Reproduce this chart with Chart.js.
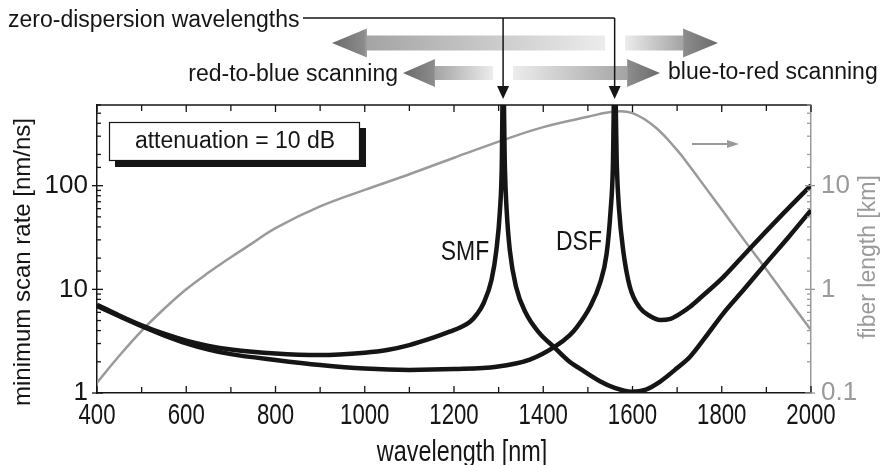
<!DOCTYPE html>
<html>
<head>
<meta charset="utf-8">
<script src="https://cdn.jsdelivr.net/npm/chart.js@4.4.1/dist/chart.umd.min.js"></script>
<style>
  html, body { margin: 0; padding: 0; background: #fff; }
  #wrap { width: 880px; height: 465px; position: relative; }
</style>
</head>
<body>
<div id="wrap"><canvas id="scanChart"></canvas></div>
<script>
// SMF: wavelength [nm] and minimum scan rate [nm/ns]
const smfWavelength = [400, 450, 500, 550, 600, 650, 700, 800, 900, 1000, 1050, 1100, 1150, 1190, 1215, 1236, 1252, 1266, 1284, 1295, 1303, 1307, 1310, 1314, 1318, 1325, 1339, 1361, 1391, 1425, 1459, 1482, 1527, 1560, 1598, 1630, 1662, 1700, 1729, 1760, 1804, 1850, 1900, 1950, 2000];
const smfRate = [7.1, 5.6, 4.5, 3.73, 3.2, 2.85, 2.63, 2.4, 2.32, 2.45, 2.6, 2.9, 3.38, 3.9, 4.3, 4.87, 5.8, 7.3, 12.3, 24, 58, 150, 1500, 150, 58, 24, 10.6, 5.9, 3.8, 2.75, 2.0, 1.72, 1.3, 1.12, 1.03, 1.08, 1.29, 1.74, 2.24, 3.3, 5.9, 10, 18, 32, 58];

// DSF
const dsfWavelength = [400, 450, 500, 550, 600, 650, 700, 800, 900, 1000, 1100, 1200, 1295, 1370, 1426, 1459, 1475, 1505, 1527, 1542, 1551, 1556, 1560, 1565, 1570, 1579, 1594, 1617, 1640, 1662, 1685, 1706, 1729, 1751, 1804, 1860, 1938, 2000];
const dsfRate = [6.9, 5.5, 4.4, 3.6, 3.02, 2.63, 2.37, 2.08, 1.86, 1.72, 1.67, 1.70, 1.79, 2.1, 2.8, 3.6, 4.3, 6.8, 11.4, 22, 58, 150, 1500, 150, 58, 24, 10.6, 6.6, 5.5, 5.06, 5.2, 5.8, 6.8, 8.2, 13.2, 24, 54, 101];

// fiber length [km] (right axis)
const fiberWavelength = [400, 450, 500, 550, 600, 650, 700, 750, 800, 900, 1000, 1100, 1200, 1310, 1400, 1500, 1560, 1600, 1650, 1700, 1729, 1750, 1800, 1850, 1900, 1950, 2000];
const fiberLength = [0.126, 0.229, 0.398, 0.646, 1.0, 1.45, 2.04, 2.82, 3.9, 6.3, 9.1, 12.9, 18.6, 27.5, 36.7, 46.2, 51.9, 50.1, 37, 22, 15.2, 11.5, 5.9, 3.0, 1.55, 0.79, 0.405];

// zero-dispersion wavelengths [nm]
const zeroDispersion = [1310, 1560];

// tick labels
const xTickLabels = [400, 600, 800, 1000, 1200, 1400, 1600, 1800, 2000];
const rateTickLabels = [1, 10, 100];
const lengthTickLabels = [0.1, 1, 10];

const BLACK = '#151515';
const GRAY = '#9a9a9a';
const SANS = '"Liberation Sans", Arial, sans-serif';

function toPoints(xs, ys) {
    return xs.map((v, i) => ({ x: v, y: ys[i] }));
}

function isDecade(v) {
    const l = Math.log10(v);
    return Math.abs(l - Math.round(l)) < 1e-6;
}

function line(ctx, x1, y1, x2, y2) {
    ctx.beginPath();
    ctx.moveTo(x1, y1);
    ctx.lineTo(x2, y2);
    ctx.stroke();
}

// narrow text, like the condensed labels of the original
function narrowText(ctx, text, x, y, sx) {
    ctx.save();
    ctx.translate(x, y);
    ctx.scale(sx, 1);
    ctx.fillText(text, 0, 0);
    ctx.restore();
}

// shaded block arrow, dark at the head
function gradArrow(ctx, tail, tip, yc, shaftH, headH, headL) {
    const dir = Math.sign(tip - tail);
    const base = tip - dir * headL;
    const g = ctx.createLinearGradient(tail, 0, tip, 0);
    const f = (base - tail) / (tip - tail);
    g.addColorStop(0, '#ececec');
    g.addColorStop(f, '#a4a4a4');
    g.addColorStop(f + 0.01, '#8c8c8c');
    g.addColorStop(1, '#6a6a6a');
    ctx.fillStyle = g;
    ctx.beginPath();
    ctx.moveTo(tail, yc - shaftH / 2);
    ctx.lineTo(base, yc - shaftH / 2);
    ctx.lineTo(base, yc - headH / 2);
    ctx.lineTo(tip, yc);
    ctx.lineTo(base, yc + headH / 2);
    ctx.lineTo(base, yc + shaftH / 2);
    ctx.lineTo(tail, yc + shaftH / 2);
    ctx.closePath();
    ctx.fill();
}

const decorations = {
    id: 'decorations',
    afterDraw(chart) {
        const { ctx, chartArea: a, scales } = chart;
        const xs = scales.x, ys = scales.y, ys2 = scales.y2;
        ctx.save();

        // top frame
        ctx.strokeStyle = BLACK;
        ctx.lineWidth = 1.5;
        line(ctx, a.left, a.top, a.right, a.top);

        // x ticks (inside), every 100 nm, top and bottom
        ctx.lineWidth = 1.3;
        for (let v = xs.min; v <= xs.max; v += 100) {
            const px = xs.getPixelForValue(v);
            const len = v % 200 === 0 ? 7 : 6;
            line(ctx, px, a.bottom, px, a.bottom - len);
            line(ctx, px, a.top, px, a.top + len);
        }

        // left log ticks
        ys.ticks.forEach(t => {
            const py = ys.getPixelForValue(t.value);
            if (isDecade(t.value)) line(ctx, a.left - 5, py, a.left + 6, py);
            else line(ctx, a.left, py, a.left + 4, py);
        });

        // right log ticks, gray
        ctx.strokeStyle = GRAY;
        ys2.ticks.forEach(t => {
            const py = ys2.getPixelForValue(t.value);
            if (isDecade(t.value)) line(ctx, a.right + 4, py, a.right - 6, py);
            else line(ctx, a.right, py, a.right - 4, py);
        });

        // x tick labels and title (condensed)
        ctx.fillStyle = BLACK;
        ctx.textAlign = 'center';
        ctx.textBaseline = 'alphabetic';
        ctx.font = '30px ' + SANS;
        xTickLabels.forEach(v => narrowText(ctx, String(v), xs.getPixelForValue(v), 424, 0.74));
        narrowText(ctx, 'wavelength [nm]', 462, 461, 0.78);

        // y axis titles
        ctx.font = '24px ' + SANS;
        ctx.textBaseline = 'middle';
        ctx.save();
        ctx.translate(23, 262);
        ctx.rotate(-Math.PI / 2);
        ctx.fillText('minimum scan rate [nm/ns]', 0, 0);
        ctx.restore();

        ctx.fillStyle = GRAY;
        ctx.font = '23px ' + SANS;
        ctx.save();
        ctx.translate(869, 257);
        ctx.rotate(-Math.PI / 2);
        ctx.fillText('fiber length [km]', 0, 0);
        ctx.restore();

        // attenuation box with shadow
        ctx.fillStyle = BLACK;
        ctx.fillRect(115, 128, 251, 39);
        ctx.fillStyle = '#fff';
        ctx.fillRect(109, 122, 251, 39);
        ctx.strokeStyle = BLACK;
        ctx.lineWidth = 1.2;
        ctx.strokeRect(109.5, 122.5, 250, 38);
        ctx.fillStyle = BLACK;
        ctx.font = '23px ' + SANS;
        ctx.fillText('attenuation = 10 dB', 235, 142);

        // fiber labels
        ctx.font = '27px ' + SANS;
        narrowText(ctx, 'SMF', 465, 253, 0.85);
        narrowText(ctx, 'DSF', 579, 243, 0.85);

        // small gray arrow pointing to the right axis
        ctx.strokeStyle = GRAY;
        ctx.fillStyle = GRAY;
        ctx.lineWidth = 2;
        line(ctx, 692, 144, 729, 144);
        ctx.beginPath();
        ctx.moveTo(739, 144);
        ctx.lineTo(727, 140);
        ctx.lineTo(727, 148);
        ctx.closePath();
        ctx.fill();

        // scanning arrows
        gradArrow(ctx, 605, 332, 43, 15, 29, 35);
        gradArrow(ctx, 625, 718, 43, 15, 29, 35);
        gradArrow(ctx, 493, 403, 73, 14, 28, 32);
        gradArrow(ctx, 513, 660, 73, 14, 28, 33);

        ctx.fillStyle = BLACK;
        ctx.font = '23px ' + SANS;
        ctx.textBaseline = 'alphabetic';
        ctx.textAlign = 'left';
        ctx.fillText('zero-dispersion wavelengths', 8, 27);
        ctx.textAlign = 'right';
        ctx.fillText('red-to-blue scanning', 398, 81);
        ctx.textAlign = 'left';
        ctx.fillText('blue-to-red scanning', 668, 79);

        // zero-dispersion pointers
        ctx.strokeStyle = BLACK;
        ctx.lineWidth = 1.5;
        const px = zeroDispersion.map(v => xs.getPixelForValue(v));
        line(ctx, 303, 18, px[px.length - 1], 18);
        px.forEach(p => {
            line(ctx, p, 18, p, 88);
            ctx.beginPath();
            ctx.moveTo(p - 6, 86);
            ctx.lineTo(p + 6, 86);
            ctx.lineTo(p, 99);
            ctx.closePath();
            ctx.fill();
        });

        ctx.restore();
    }
};

const ctx = document.getElementById('scanChart').getContext('2d');
new Chart(ctx, {
    type: 'scatter',
    data: {
        datasets: [
            {
                label: 'fiber length',
                data: toPoints(fiberWavelength, fiberLength),
                yAxisID: 'y2',
                showLine: true,
                borderColor: GRAY,
                borderWidth: 2.5,
                pointRadius: 0,
                tension: 0.4,
                order: 3
            },
            {
                label: 'SMF',
                data: toPoints(smfWavelength, smfRate),
                yAxisID: 'y',
                showLine: true,
                borderColor: BLACK,
                borderWidth: 4.5,
                pointRadius: 0,
                cubicInterpolationMode: 'monotone',
                order: 1
            },
            {
                label: 'DSF',
                data: toPoints(dsfWavelength, dsfRate),
                yAxisID: 'y',
                showLine: true,
                borderColor: BLACK,
                borderWidth: 4.5,
                pointRadius: 0,
                cubicInterpolationMode: 'monotone',
                order: 2
            }
        ]
    },
    options: {
        responsive: true,
        maintainAspectRatio: false,
        animation: false,
        layout: { padding: { top: 105, left: 0, right: 0, bottom: 0 } },
        plugins: {
            legend: { display: false },
            tooltip: { enabled: false }
        },
        scales: {
            x: {
                type: 'linear',
                min: 400,
                max: 2000,
                grid: { display: false, drawTicks: false },
                border: { display: true, color: BLACK, width: 1.5 },
                afterBuildTicks: s => { s.ticks = xTickLabels.map(v => ({ value: v })); },
                afterFit: s => { s.height = 72; },
                ticks: { display: false }
            },
            y: {
                type: 'logarithmic',
                position: 'left',
                min: 1,
                max: 600,
                grid: { display: false, drawTicks: false },
                border: { display: true, color: BLACK, width: 1.5 },
                afterFit: s => { s.width = 97; },
                ticks: {
                    autoSkip: false,
                    padding: 9,
                    color: BLACK,
                    font: { family: SANS, size: 26 },
                    callback: v => rateTickLabels.some(t => Math.abs(t - v) < 1e-9) ? String(v) : ''
                }
            },
            y2: {
                type: 'logarithmic',
                position: 'right',
                min: 0.1,
                max: 60,
                grid: { display: false, drawTicks: false },
                border: { display: true, color: GRAY, width: 1.5 },
                afterFit: s => { s.width = 69; },
                ticks: {
                    autoSkip: false,
                    padding: 10,
                    color: GRAY,
                    font: { family: SANS, size: 26 },
                    callback: v => lengthTickLabels.some(t => Math.abs(t - v) < 1e-9) ? String(v) : ''
                }
            }
        }
    },
    plugins: [decorations]
});
</script>
</body>
</html>
